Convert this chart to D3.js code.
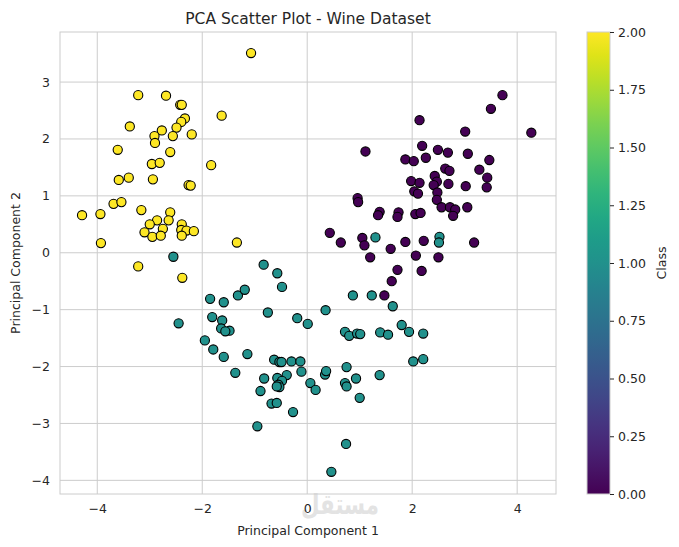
<!DOCTYPE html>
<html>
<head>
<meta charset="utf-8">
<script src="https://cdn.jsdelivr.net/npm/d3@7"></script>
<style>
  body { margin: 0; background: #fff; }
  text { font-family: "DejaVu Sans", sans-serif; fill: #262626; }
</style>
</head>
<body>
<svg id="chart"></svg>
<script>
// PC1 / PC2 values per class
const class0 = [
  [2.14, 2.33], [3.01, 2.13], [1.11, 1.78], [2.19, 1.88], [2.49, 1.81], [2.68, 1.76],
  [3.06, 1.74], [1.87, 1.64], [2.03, 1.61], [2.26, 1.67], [2.63, 1.48], [2.71, 1.44],
  [2.43, 1.35], [2.47, 1.25], [2.41, 1.19], [2.69, 1.21], [3.02, 1.17], [1.98, 1.26],
  [2.14, 1.23], [2.04, 1.08], [2.11, 1.04], [2.48, 1.06], [2.47, 0.93], [2.56, 0.80],
  [2.72, 0.80], [2.82, 0.76], [2.78, 0.65], [3.05, 0.80], [0.96, 0.96], [0.97, 0.89],
  [1.38, 0.72], [1.35, 0.66], [1.74, 0.71], [1.72, 0.63], [2.06, 0.68], [2.16, 0.70],
  [0.43, 0.35], [0.64, 0.18], [1.05, 0.26], [1.09, 0.13], [1.20, -0.08], [1.59, 0.07],
  [1.87, 0.19], [2.22, 0.21], [2.07, -0.05], [2.50, -0.08], [1.72, -0.30], [2.18, -0.32],
  [1.61, -0.50], [1.47, -0.75], [3.72, 2.77], [3.50, 2.53], [4.27, 2.11], [3.47, 1.63],
  [3.28, 1.46], [3.43, 1.32], [3.42, 1.15], [3.18, 0.18]
];
const class1 = [
  [-2.55, -0.07], [-1.85, -0.81], [-1.59, -0.87], [-1.32, -0.75], [-1.19, -0.65],
  [-2.45, -1.24], [-1.81, -1.13], [-1.62, -1.19], [-1.64, -1.33], [-1.48, -1.37],
  [-1.56, -1.38], [-0.83, -0.21], [-0.57, -0.36], [-0.48, -0.60], [-0.75, -1.05],
  [0.35, -1.01], [-0.19, -1.15], [0.01, -1.25], [-1.95, -1.54], [-1.79, -1.70],
  [-1.59, -1.83], [-1.14, -1.78], [-1.37, -2.11], [-0.63, -1.88], [-0.53, -1.92],
  [-0.49, -1.92], [-0.30, -1.91], [-0.13, -1.91], [-0.11, -2.09], [-0.39, -2.15],
  [-0.82, -2.21], [-0.57, -2.20], [-0.48, -2.25], [-0.55, -2.32], [-0.53, -2.36],
  [-0.58, -2.35], [-0.89, -2.43], [0.06, -2.29], [0.16, -2.41], [-0.68, -2.65],
  [-0.58, -2.64], [-0.27, -2.80], [-0.95, -3.05], [0.72, -1.39], [0.75, -2.01],
  [0.34, -2.14], [0.36, -2.08], [0.72, -2.29], [0.75, -2.35], [0.87, -0.75],
  [1.23, -0.75], [1.63, -0.94], [0.80, -1.46], [0.95, -1.42], [1.01, -1.43],
  [1.39, -1.40], [1.54, -1.44], [1.80, -1.27], [1.94, -1.39], [2.21, -1.42],
  [2.02, -1.91], [2.21, -1.87], [0.93, -2.21], [1.38, -2.15], [1.00, -2.55],
  [0.74, -3.36], [0.46, -3.85], [1.30, 0.27], [2.52, 0.28], [2.51, 0.18]
];
const class2 = [
  [-1.07, 3.51], [-3.22, 2.77], [-2.69, 2.76], [-2.42, 2.60], [-2.39, 2.60], [-1.63, 2.41],
  [-3.38, 2.22], [-2.33, 2.36], [-2.40, 2.30], [-2.49, 2.20], [-2.77, 2.15], [-2.20, 2.08],
  [-2.56, 2.05], [-2.91, 2.05], [-2.90, 1.93], [-3.61, 1.81], [-2.61, 1.77], [-2.96, 1.56],
  [-2.81, 1.58], [-1.83, 1.54], [-3.59, 1.28], [-3.40, 1.32], [-2.94, 1.29], [-2.26, 1.19],
  [-2.22, 1.18], [-3.69, 0.86], [-3.54, 0.89], [-4.29, 0.66], [-3.94, 0.68], [-3.16, 0.75],
  [-2.61, 0.71], [-2.64, 0.57], [-2.86, 0.57], [-3.00, 0.50], [-2.75, 0.42], [-3.10, 0.36],
  [-2.95, 0.28], [-2.79, 0.30], [-2.39, 0.50], [-2.40, 0.40], [-2.30, 0.39], [-2.16, 0.38],
  [-2.39, 0.30], [-3.93, 0.17], [-1.34, 0.18], [-3.22, -0.24], [-2.38, -0.44]
];
const classes = [0, 1, 2];
const xTicks = [-4, -2, 0, 2, 4];
const yTicks = [-4, -3, -2, -1, 0, 1, 2, 3];
const cbarTicks = [0, 0.25, 0.5, 0.75, 1, 1.25, 1.5, 1.75, 2];

const width = 679, height = 547;
const plot = { left: 60, right: 556, top: 32, bottom: 494 };
const cbar = { left: 587, right: 610 };

const svg = d3.select('#chart').attr('width', width).attr('height', height);

const x = d3.scaleLinear().domain([-4.71, 4.74]).range([plot.left, plot.right]);
const y = d3.scaleLinear().domain([-4.24, 3.88]).range([plot.bottom, plot.top]);
const color = d3.scaleSequential(d3.interpolateViridis).domain([0, 2]);
const fmt = d => d < 0 ? '\u2212' + Math.abs(d) : String(d);

// watermark, sits under the tick labels
svg.append('text')
  .attr('x', 340).attr('y', 514)
  .attr('text-anchor', 'middle')
  .attr('font-size', '28px')
  .attr('font-weight', 'bold')
  .attr('textLength', 78)
  .attr('lengthAdjust', 'spacingAndGlyphs')
  .style('fill', '#e3e3e3')
  .text('مستقل');

// grid
svg.append('g')
  .selectAll('line.gx')
  .data(xTicks)
  .join('line')
  .attr('x1', d => x(d)).attr('x2', d => x(d))
  .attr('y1', plot.top).attr('y2', plot.bottom)
  .attr('stroke', '#cccccc').attr('stroke-width', 1);

svg.append('g')
  .selectAll('line.gy')
  .data(yTicks)
  .join('line')
  .attr('x1', plot.left).attr('x2', plot.right)
  .attr('y1', d => y(d)).attr('y2', d => y(d))
  .attr('stroke', '#cccccc').attr('stroke-width', 1);

// axes
const xAxis = d3.axisBottom(x).tickValues(xTicks).tickSize(0).tickPadding(10).tickFormat(fmt);
const yAxis = d3.axisLeft(y).tickValues(yTicks).tickSize(0).tickPadding(10).tickFormat(fmt);

svg.append('g')
  .attr('transform', `translate(0,${plot.bottom})`)
  .call(xAxis)
  .call(g => g.select('.domain').remove())
  .selectAll('text')
  .attr('font-size', '12.5px')
  .attr('fill', '#262626');

svg.append('g')
  .attr('transform', `translate(${plot.left},0)`)
  .call(yAxis)
  .call(g => g.select('.domain').remove())
  .selectAll('text')
  .attr('font-size', '12.5px')
  .attr('fill', '#262626');

svg.append('rect')
  .attr('x', plot.left).attr('y', plot.top)
  .attr('width', plot.right - plot.left).attr('height', plot.bottom - plot.top)
  .attr('fill', 'none').attr('stroke', '#cccccc').attr('stroke-width', 1);

// points, drawn class by class like the original
const allPoints = [class0, class1, class2];
classes.forEach(c => {
  svg.append('g')
    .selectAll('circle')
    .data(allPoints[c])
    .join('circle')
    .attr('cx', d => x(d[0]))
    .attr('cy', d => y(d[1]))
    .attr('r', 4.6)
    .attr('fill', color(c))
    .attr('stroke', '#000')
    .attr('stroke-width', 1.1);
});

// titles
svg.append('text')
  .attr('x', (plot.left + plot.right) / 2).attr('y', 24)
  .attr('text-anchor', 'middle')
  .attr('font-size', '15.5px')
  .text('PCA Scatter Plot - Wine Dataset');

svg.append('text')
  .attr('x', (plot.left + plot.right) / 2).attr('y', 535)
  .attr('text-anchor', 'middle')
  .attr('font-size', '12.5px')
  .text('Principal Component 1');

svg.append('text')
  .attr('transform', `translate(20,${(plot.top + plot.bottom) / 2}) rotate(-90)`)
  .attr('text-anchor', 'middle')
  .attr('font-size', '12.5px')
  .text('Principal Component 2');

// colorbar
const cy = d3.scaleLinear().domain([0, 2]).range([plot.bottom, plot.top]);
const grad = svg.append('defs').append('linearGradient')
  .attr('id', 'viridis')
  .attr('x1', '0%').attr('y1', '100%').attr('x2', '0%').attr('y2', '0%');
grad.selectAll('stop')
  .data(d3.range(0, 1.0001, 0.05))
  .join('stop')
  .attr('offset', d => `${d * 100}%`)
  .attr('stop-color', d => color(d * 2));

svg.append('rect')
  .attr('x', cbar.left).attr('y', plot.top)
  .attr('width', cbar.right - cbar.left).attr('height', plot.bottom - plot.top)
  .attr('fill', 'url(#viridis)')
  .attr('stroke', '#cccccc').attr('stroke-width', 1);

svg.append('g')
  .attr('transform', `translate(${cbar.right},0)`)
  .call(d3.axisRight(cy).tickValues(cbarTicks).tickSize(4).tickPadding(4).tickFormat(d3.format('.2f')))
  .call(g => g.select('.domain').remove())
  .call(g => g.selectAll('line').attr('stroke', '#262626'))
  .selectAll('text')
  .attr('font-size', '12.5px')
  .attr('fill', '#262626');

svg.append('text')
  .attr('transform', `translate(666,${(plot.top + plot.bottom) / 2}) rotate(-90)`)
  .attr('text-anchor', 'middle')
  .attr('font-size', '12.5px')
  .text('Class');
</script>
</body>
</html>
